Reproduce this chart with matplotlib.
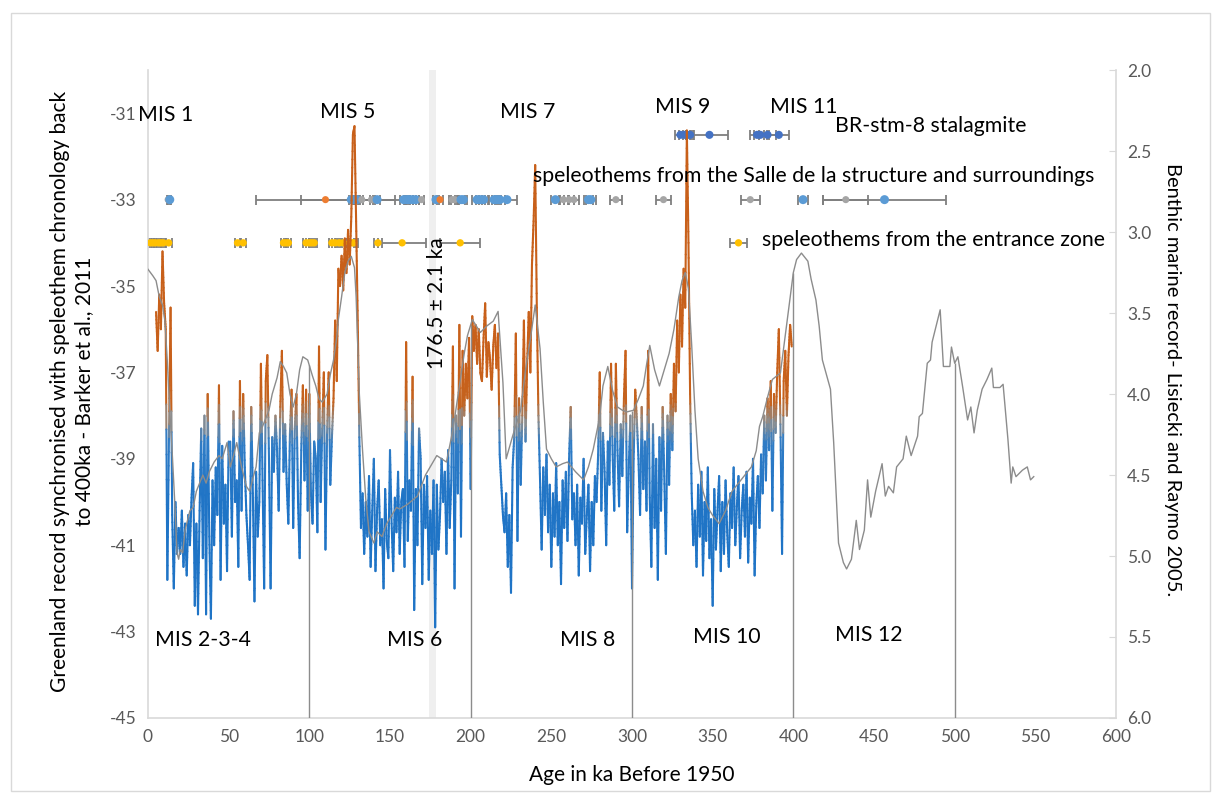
import numpy as np
import matplotlib
matplotlib.use("Agg")
import matplotlib.pyplot as plt
from matplotlib.collections import LineCollection
from matplotlib.colors import LinearSegmentedColormap, Normalize
from matplotlib.patches import Rectangle

plt.rcParams['font.family'] = ['Lato', 'DejaVu Sans']
plt.rcParams['axes.unicode_minus'] = False

# ---------------------------------------------------------------------------
# Greenland synthetic record (Barker et al., 2011), one value per ka from 5 ka
# ---------------------------------------------------------------------------
GREENLAND_FIRST_KA = 5
greenland = [
    -35.6, -36.5, -35.2, -36.0, -34.2,
    -35.4, -36.0, -41.8, -38.5, -35.5, -40.3, -42.0, -40.0, -41.2, -40.6,
    -41.2, -40.2, -41.5, -40.5, -41.7, -40.3, -41.0, -39.9, -39.1, -42.4,
    -40.5, -42.6, -40.2, -38.3, -41.3, -38.0, -42.6, -37.5, -40.8, -42.7,
    -39.5, -41.0, -39.2, -40.3, -37.3, -41.8, -38.7, -40.5, -39.6, -41.6,
    -38.6, -38.6, -40.8, -37.9, -40.0, -39.5, -41.5, -37.2, -40.2, -37.5,
    -39.2, -40.3, -41.0, -41.8, -37.8, -39.8, -42.3, -39.3, -40.8, -40.0,
    -36.8, -39.5, -42.0, -37.2, -36.6, -39.0, -42.0, -38.5, -39.3, -38.0,
    -38.8, -40.2, -37.8, -36.5, -39.3, -38.2, -39.6, -40.5, -38.4, -37.4,
    -40.6, -38.3, -37.5, -40.0, -41.3, -38.8, -37.3, -39.5, -37.4, -40.2,
    -37.5, -39.8, -40.5, -38.6, -39.0, -40.7, -36.4, -40.0, -38.3, -37.0,
    -41.1, -38.4, -37.0, -39.6, -38.5, -37.6, -35.8, -37.2, -34.6, -35.0,
    -34.3, -35.1, -33.9, -34.7, -33.7, -34.5, -33.4, -31.5, -31.3, -33.5,
    -35.8, -38.5, -40.6, -39.8, -41.2, -40.0, -40.8, -39.4, -41.5, -40.2,
    -39.0, -41.6, -40.2, -39.5, -41.0, -40.4, -42.0, -39.7, -40.9, -41.3,
    -38.8, -40.5, -41.6, -39.9, -40.7, -39.3, -41.2, -40.0, -39.7, -41.5,
    -36.3, -40.9, -39.5, -40.2, -37.1, -42.5, -39.7, -41.0, -38.3, -39.0,
    -41.9, -39.6, -40.6, -39.4, -41.8, -40.2, -41.2, -39.5, -42.9, -39.6,
    -41.1, -40.3, -39.0, -40.0, -39.3, -41.2, -38.8, -40.6, -39.5, -36.4,
    -42.0, -38.0, -39.8, -35.9, -40.8, -36.5, -38.0, -36.8, -37.6, -36.2,
    -39.7, -35.7, -36.5, -35.9, -36.8, -36.0, -37.0, -37.2, -36.2, -35.4,
    -37.1, -36.3, -36.7, -37.4, -36.4, -35.9, -36.9, -36.1, -38.9, -39.6,
    -40.3, -40.7, -39.8, -41.5, -40.3, -42.1, -39.2, -38.5, -36.1, -40.9,
    -37.6, -39.6, -38.0, -35.8, -38.6, -36.8, -35.6, -37.0, -34.5, -33.5,
    -32.2, -35.5, -38.0, -39.5, -41.1, -39.2, -40.3, -38.9, -40.7, -39.6,
    -41.5, -39.8, -40.8, -39.1, -41.0, -40.0, -41.9, -39.5, -40.6, -39.3,
    -40.9, -39.0, -37.8, -40.4, -39.8, -41.0, -39.6, -41.7, -39.9, -40.5,
    -39.0, -41.2, -40.3, -39.6, -41.6, -40.0, -41.0, -39.4, -40.0, -38.9,
    -37.0, -40.2, -38.4, -39.3, -41.0, -38.6, -39.6, -36.8, -38.9, -40.2,
    -36.8, -38.8, -40.1, -38.2, -39.4, -37.6, -36.5, -40.7, -39.2, -38.0,
    -42.0, -39.0, -37.4, -38.1, -39.0, -40.3, -37.8, -39.7, -38.6, -40.2,
    -36.5, -39.9, -41.5, -38.2, -40.6, -39.0, -41.8, -38.5, -40.2, -37.8,
    -39.4, -41.2, -38.0, -39.6, -37.5, -38.8, -36.8, -37.9, -35.8, -37.0,
    -35.2, -36.4, -34.6, -35.5, -31.4, -34.0, -37.5, -39.8, -41.0, -40.2,
    -41.5, -39.6, -40.8, -39.3, -41.7, -40.0, -40.9, -39.2, -41.3, -40.4,
    -42.4, -39.7, -41.1, -40.2, -39.4, -41.6, -40.0, -41.2, -39.5, -40.7,
    -41.5, -39.8, -40.6, -39.2, -41.0, -40.1, -39.4, -41.3, -40.2, -39.6,
    -40.8, -39.3, -41.4, -39.9, -40.5, -39.0, -41.7, -40.1, -39.4, -40.6,
    -38.9, -39.8, -38.0, -39.5, -37.6, -38.8, -37.2, -40.2, -37.5, -38.4,
    -37.0, -36.0, -38.2, -41.2, -37.2, -36.5, -38.0, -36.6, -35.9, -36.4,
]
greenland_age = np.arange(GREENLAND_FIRST_KA, GREENLAND_FIRST_KA + len(greenland))

# ---------------------------------------------------------------------------
# LR04 benthic d18O stack (Lisiecki & Raymo, 2005)
# ---------------------------------------------------------------------------
benthic_age = [
    0, 3, 5, 7, 9, 10.5, 12, 13.5, 15, 16.5, 18, 19, 20, 21.5, 23, 26, 28, 30,
    32, 34, 36, 38, 41, 44, 46, 49, 51, 53, 55, 58, 61, 63, 65, 67, 69, 71, 73,
    75, 77, 80, 82, 84, 86, 88, 90, 92, 94, 96, 99, 102, 104, 106, 108, 111,
    113, 115, 117, 118, 120, 122, 124, 126, 128, 129, 130, 131, 133, 135, 137,
    140, 142, 145, 148, 151, 154, 156, 161, 167, 172, 179, 185, 189, 193, 196,
    198, 201, 206, 210, 214, 217, 220, 222, 226, 231, 234, 237, 240, 243, 245,
    247, 250, 253, 257, 260, 265, 270, 273, 276, 280, 282, 285, 288, 291, 294,
    297, 301, 304, 307, 309, 311, 314, 317, 320, 323, 326, 329, 331, 333, 335,
    337, 339, 341, 344, 347, 350, 354, 358, 362, 366, 370, 374, 377, 379, 381,
    384, 387, 392, 397, 400, 402, 405, 409, 411, 414, 416, 418, 423, 425, 426,
    428, 431, 433, 436, 439, 441, 444, 446, 448, 451, 455, 457, 459, 462, 464,
    468, 470, 473, 477, 478, 480, 483, 485, 486, 491, 493, 497, 498, 500, 502,
    505, 508, 510, 512, 514, 517, 520, 523, 524, 528, 530, 533, 535, 536, 538,
    542, 545, 547, 549,
]
benthic = [
    3.23, 3.27, 3.30, 3.40, 3.45, 3.55, 3.80, 4.10, 4.36, 4.65, 4.98, 5.02,
    4.96, 4.98, 4.84, 4.72, 4.70, 4.60, 4.55, 4.50, 4.55, 4.48, 4.42, 4.38,
    4.40, 4.30, 4.45, 4.38, 4.30, 4.45, 4.57, 4.60, 4.52, 4.45, 4.24, 4.20,
    4.15, 4.10, 4.00, 3.90, 3.80, 3.83, 3.87, 4.00, 4.08, 4.00, 3.85, 3.77,
    3.79, 3.89, 3.95, 4.03, 4.05, 4.00, 3.88, 3.79, 3.65, 3.54, 3.40, 3.25,
    3.18, 3.15, 3.22, 3.40, 3.70, 4.00, 4.35, 4.65, 4.85, 4.92, 4.85, 4.88,
    4.80, 4.75, 4.70, 4.71, 4.68, 4.63, 4.50, 4.38, 4.42, 4.22, 3.95, 3.75,
    3.64, 3.54, 3.62, 3.58, 3.55, 3.49, 3.93, 4.40, 4.26, 4.10, 3.85, 3.66,
    3.45, 3.72, 4.05, 4.34, 4.40, 4.45, 4.43, 4.42, 4.48, 4.53, 4.45, 4.34,
    4.14, 3.95, 3.83, 3.98, 4.08, 4.10, 4.11, 4.10, 4.03, 3.95, 3.82, 3.70,
    3.85, 3.95, 3.85, 3.75, 3.60, 3.40, 3.30, 3.25, 3.35, 3.70, 4.10, 4.40,
    4.60, 4.70, 4.75, 4.80, 4.72, 4.60, 4.55, 4.50, 4.45, 4.35, 4.20, 4.14,
    4.02, 3.91, 3.87, 3.48, 3.25, 3.17, 3.13, 3.18, 3.29, 3.42, 3.58, 3.79,
    3.97, 4.30, 4.51, 4.92, 5.04, 5.08, 5.02, 4.78, 4.96, 4.84, 4.53, 4.76,
    4.60, 4.43, 4.63, 4.57, 4.61, 4.45, 4.40, 4.26, 4.38, 4.26, 4.14, 4.12,
    3.81, 3.79, 3.68, 3.48, 3.83, 3.83, 3.71, 3.81, 3.77, 3.96, 4.16, 4.08,
    4.24, 4.10, 3.97, 3.91, 3.84, 3.96, 3.96, 3.94, 4.28, 4.55, 4.45, 4.51,
    4.47, 4.45, 4.53, 4.51,
]

# 100-ka boundaries drawn down from the benthic curve
boundaries = [100, 200, 300, 400, 500]

# ---------------------------------------------------------------------------
# U-Th ages of the speleothems (ka, 2-sigma)
# ---------------------------------------------------------------------------
BLUE, GREY, ORANGE = '#5B9BD5', '#A5A5A5', '#ED7D31'
salle_age = [12.5, 13.5, 110, 126, 127, 128.5, 129.5, 132.5, 138.5, 142,
             158.5, 160.5, 162, 164, 166, 169.5, 178.5, 181, 188.5, 190,
             194, 195.5, 204, 206, 208, 214.5, 216, 218, 222.5, 252.5,
             257.5, 261, 264, 273, 274.5, 290, 319.5, 373.3, 406, 432.5,
             456.5]
salle_err = [1, 1, 43, 1.5, 32, 1.5, 1, 1, 1, 1.5,
             2, 2, 2, 2, 2, 1.5, 2, 2, 2, 2,
             2.5, 2.5, 3, 3, 3, 3, 3, 3, 6, 3,
             3, 3, 3, 3, 3, 3.5, 4.5, 6, 3, 14,
             38.2]
salle_color = [GREY, BLUE, ORANGE, BLUE, BLUE, BLUE, BLUE, GREY, GREY, BLUE,
               BLUE, BLUE, BLUE, BLUE, BLUE, GREY, BLUE, ORANGE, GREY, GREY,
               BLUE, BLUE, BLUE, BLUE, BLUE, BLUE, BLUE, BLUE, BLUE, BLUE,
               GREY, GREY, GREY, BLUE, BLUE, GREY, GREY, GREY, BLUE, GREY,
               BLUE]

entrance_age = [1.5, 3, 4.5, 6.5, 8, 9.5, 12.8, 55.5, 59, 84, 85.5, 87, 98,
                100, 101.5, 103, 114, 116, 118.5, 121, 125, 126.5, 127.5,
                142.5, 157.5, 193.5, 366]
entrance_err = [1, 1, 1, 1.5, 1, 1.5, 2.2, 1.5, 1.5, 1.5, 1.5, 1.5, 2,
                2, 2, 2, 2, 2, 2, 2, 2.5, 2.5, 2.5,
                2.5, 15, 12.5, 5.5]

stm8_age = [330, 332.5, 334.5, 336, 348, 377.5, 379.5, 384, 391]
stm8_err = [3.5, 3.5, 3, 2.5, 11.5, 4.5, 4, 5, 6]

ROW_STM8, ROW_SALLE, ROW_ENTRANCE = -31.5, -33.0, -34.0

# ---------------------------------------------------------------------------
fig = plt.figure(figsize=(12.14, 7.96), dpi=100)
fig.patches.append(Rectangle((0.009, 0.006), 0.988, 0.978, transform=fig.transFigure,
                             fill=False, edgecolor='#D9D9D9', linewidth=1))
ax = fig.add_axes([0.1219, 0.098, 0.7974, 0.814])
ax.set_xlim(0, 600)
ax.set_ylim(-45, -30)
ax.set_xticks(np.arange(0, 601, 50))
ax.set_yticks(np.arange(-45, -30, 2))
ax.tick_params(length=0, colors='#595959', labelsize=12.5, pad=8)
for side in ('top', 'right'):
    ax.spines[side].set_visible(False)
for side in ('left', 'bottom'):
    ax.spines[side].set_color('#D9D9D9')
    ax.spines[side].set_linewidth(1.2)

# highlighted age window
ax.axvspan(176.5 - 2.1, 176.5 + 2.1, color='#EFEFEF', zorder=0, lw=0)
ax.text(179.4, -35.4, '176.5 \u00b1 2.1 ka', rotation=90, ha='center', va='center',
        fontsize=15, color='black')

# speleothem age rows
def age_row(ages, errs, y, colors, size):
    ax.errorbar(ages, [y] * len(ages), xerr=errs, fmt='none', ecolor='#7F7F7F',
                elinewidth=1.3, capsize=3.5, capthick=1.3, zorder=2)
    ax.scatter(ages, [y] * len(ages), s=size, c=colors, zorder=3, lw=0)

age_row(salle_age, salle_err, ROW_SALLE,
        salle_color, [42 if c == BLUE else 26 for c in salle_color])
age_row(entrance_age, entrance_err, ROW_ENTRANCE, ['#FFC000'] * len(entrance_age), 28)
age_row(stm8_age, stm8_err, ROW_STM8, ['#4472C4'] * len(stm8_age), 34)

# Greenland curve with a vertical colour gradient (cold blue -> warm orange)
cmap = LinearSegmentedColormap.from_list(
    'gl', [(0.0, '#1F74C6'), (0.45, '#2F7CC6'), (0.62, '#8E8E8E'),
           (0.78, '#C4631F'), (1.0, '#C8601A')])
norm = Normalize(vmin=-40.0, vmax=-37.0)
ga = np.asarray(greenland_age, float)
gv = np.asarray(greenland, float)
sub = 10
segs = []
vals = []
for i in range(len(ga) - 1):
    t = np.linspace(0, 1, sub + 1)
    x = ga[i] + (ga[i + 1] - ga[i]) * t
    y = gv[i] + (gv[i + 1] - gv[i]) * t
    pts = np.column_stack([x, y])
    for j in range(sub):
        segs.append(pts[j:j + 2])
        vals.append(0.5 * (pts[j, 1] + pts[j + 1, 1]))
lc = LineCollection(segs, cmap=cmap, norm=norm, linewidths=1.5, zorder=4,
                    capstyle='round')
lc.set_array(np.asarray(vals))
ax.add_collection(lc)

# benthic record on the secondary (inverted) axis
ax2 = ax.twinx()
ax2.set_ylim(6.0, 2.0)
ax2.set_yticks(np.arange(2.0, 6.01, 0.5))
ax2.set_yticklabels([f'{v:.1f}' for v in np.arange(2.0, 6.01, 0.5)])
ax2.tick_params(direction='in', length=5, color='#D9D9D9', colors='#595959',
                labelsize=12.5, pad=8)
ax2.tick_params(axis='y', colors='#595959', color='#D9D9D9')
for side in ('top', 'left', 'bottom'):
    ax2.spines[side].set_visible(False)
ax2.spines['right'].set_color('#D9D9D9')
ax2.spines['right'].set_linewidth(1.2)
ax2.plot(benthic_age, benthic, color='#8C8C8C', lw=1.0, zorder=5)
b_at = np.interp(boundaries, benthic_age, benthic)
ax2.vlines(boundaries, b_at, 6.0, color='#8C8C8C', lw=1.0)

# annotations
labels = [
    ('MIS 1', -6.2, -31.05), ('MIS 5', 106.6, -30.98), ('MIS 7', 218.2, -30.98),
    ('MIS 9', 314.3, -30.86), ('MIS 11', 385.5, -30.86),
    ('BR-stm-8 stalagmite', 425.8, -31.3),
    ('speleothems from the Salle de la structure and surroundings', 238.6, -32.46),
    ('speleothems from the entrance zone', 380.6, -33.94),
    ('MIS 2-3-4', 4.3, -43.19), ('MIS 6', 148.1, -43.19), ('MIS 8', 255.4, -43.19),
    ('MIS 10', 337.8, -43.12), ('MIS 12', 425.8, -43.08),
]
for s, x, y in labels:
    ax.text(x, y, s, ha='left', va='center', fontsize=15.3, color='black',
            zorder=6, clip_on=False)

fig.text(632 / 1214, 1 - 775 / 796, 'Age in ka Before 1950', ha='center',
         va='center', fontsize=15, color='black')
fig.text(72 / 1214, 1 - 391 / 796,
         'Greenland record synchronised with speleothem chronology back\n'
         'to 400ka - Barker et al., 2011',
         rotation=90, ha='center', va='center', multialignment='center',
         fontsize=15, color='black', linespacing=1.2)
fig.text(1172 / 1214, 1 - 380 / 796,
         'Benthic marine record- Lisiecki and Raymo 2005.',
         rotation=-90, ha='center', va='center', fontsize=14.5, color='black')

fig.savefig('out.png', dpi=100)
